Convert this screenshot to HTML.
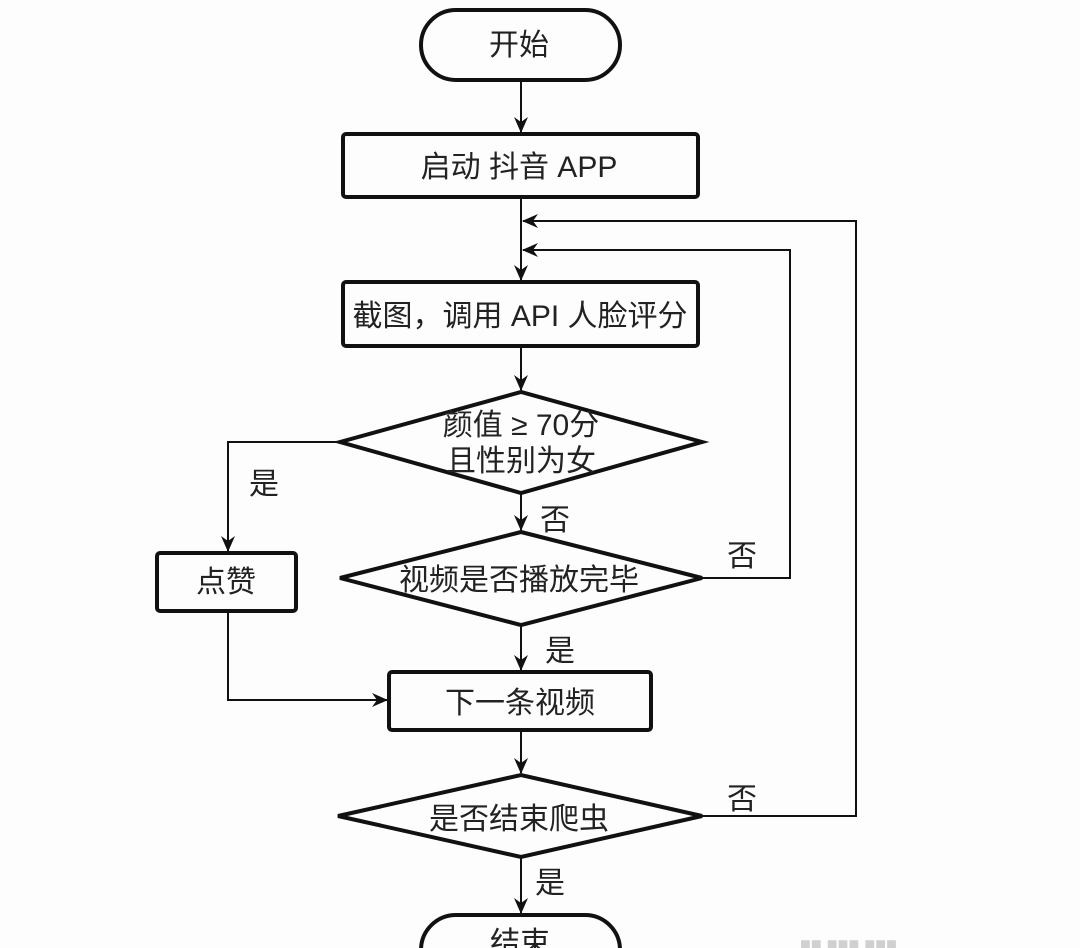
<!DOCTYPE html>
<html><head><meta charset="utf-8">
<style>
html,body{margin:0;padding:0;background:#fdfdfd;}
svg{display:block;}
text{font-family:"Liberation Sans","Noto Sans CJK SC",sans-serif;fill:#222;}
</style></head>
<body>
<svg width="1080" height="948" viewBox="0 0 1080 948" xmlns="http://www.w3.org/2000/svg">
<defs>
<marker id="a" markerWidth="16" markerHeight="16" refX="15" refY="8" orient="auto" markerUnits="userSpaceOnUse">
<path d="M0,1 L16,8 L0,15 L5,8 Z" fill="#111"/>
</marker>
</defs>
<g fill="none" stroke="#111" stroke-width="4">
<rect x="421" y="10" width="199" height="70" rx="35"/>
<rect x="343" y="134" width="355" height="63" rx="3"/>
<rect x="343" y="282" width="355" height="64" rx="3"/>
<polygon points="340,442 521,392 702,442 521,493"/>
<polygon points="340,578 521,532 702,578 521,625"/>
<rect x="157" y="553" width="139" height="58" rx="3"/>
<rect x="389" y="672" width="262" height="58" rx="3"/>
<polygon points="338,816 521,775 702,816 521,857"/>
<rect x="421" y="915" width="199" height="70" rx="35"/>
</g>
<g fill="none" stroke="#111" stroke-width="2">
<line x1="521" y1="80" x2="521" y2="132" marker-end="url(#a)"/>
<line x1="521" y1="197" x2="521" y2="280" marker-end="url(#a)"/>
<polyline points="702,816 856,816 856,221 523,221" marker-end="url(#a)"/>
<polyline points="702,578 790,578 790,250 523,250" marker-end="url(#a)"/>
<line x1="521" y1="346" x2="521" y2="390" marker-end="url(#a)"/>
<line x1="521" y1="493" x2="521" y2="530" marker-end="url(#a)"/>
<polyline points="340,442 228,442 228,551" marker-end="url(#a)"/>
<line x1="521" y1="625" x2="521" y2="670" marker-end="url(#a)"/>
<polyline points="228,611 228,700 387,700" marker-end="url(#a)"/>
<line x1="521" y1="730" x2="521" y2="773" marker-end="url(#a)"/>
<line x1="521" y1="857" x2="521" y2="913" marker-end="url(#a)"/>
</g>
<g font-size="30" text-anchor="middle">
<text x="519" y="55">开始</text>
<text x="519" y="177">启动 抖音 APP</text>
<text x="520" y="326">截图，调用 API 人脸评分</text>
<text x="521" y="435">颜值 ≥ 70分</text>
<text x="521" y="471">且性别为女</text>
<text x="519" y="590">视频是否播放完毕</text>
<text x="226" y="592">点赞</text>
<text x="520" y="713">下一条视频</text>
<text x="519" y="829">是否结束爬虫</text>
<text x="520" y="953">结束</text>
<text x="264" y="494">是</text>
<text x="555" y="530">否</text>
<text x="742" y="566">否</text>
<text x="560" y="661">是</text>
<text x="742" y="809">否</text>
<text x="550" y="893">是</text>
</g>
<text x="800" y="950" font-size="18" fill="#ccc" style="fill:#d0d0d0">■■ ■■■ ■■■</text>
</svg>
</body></html>
